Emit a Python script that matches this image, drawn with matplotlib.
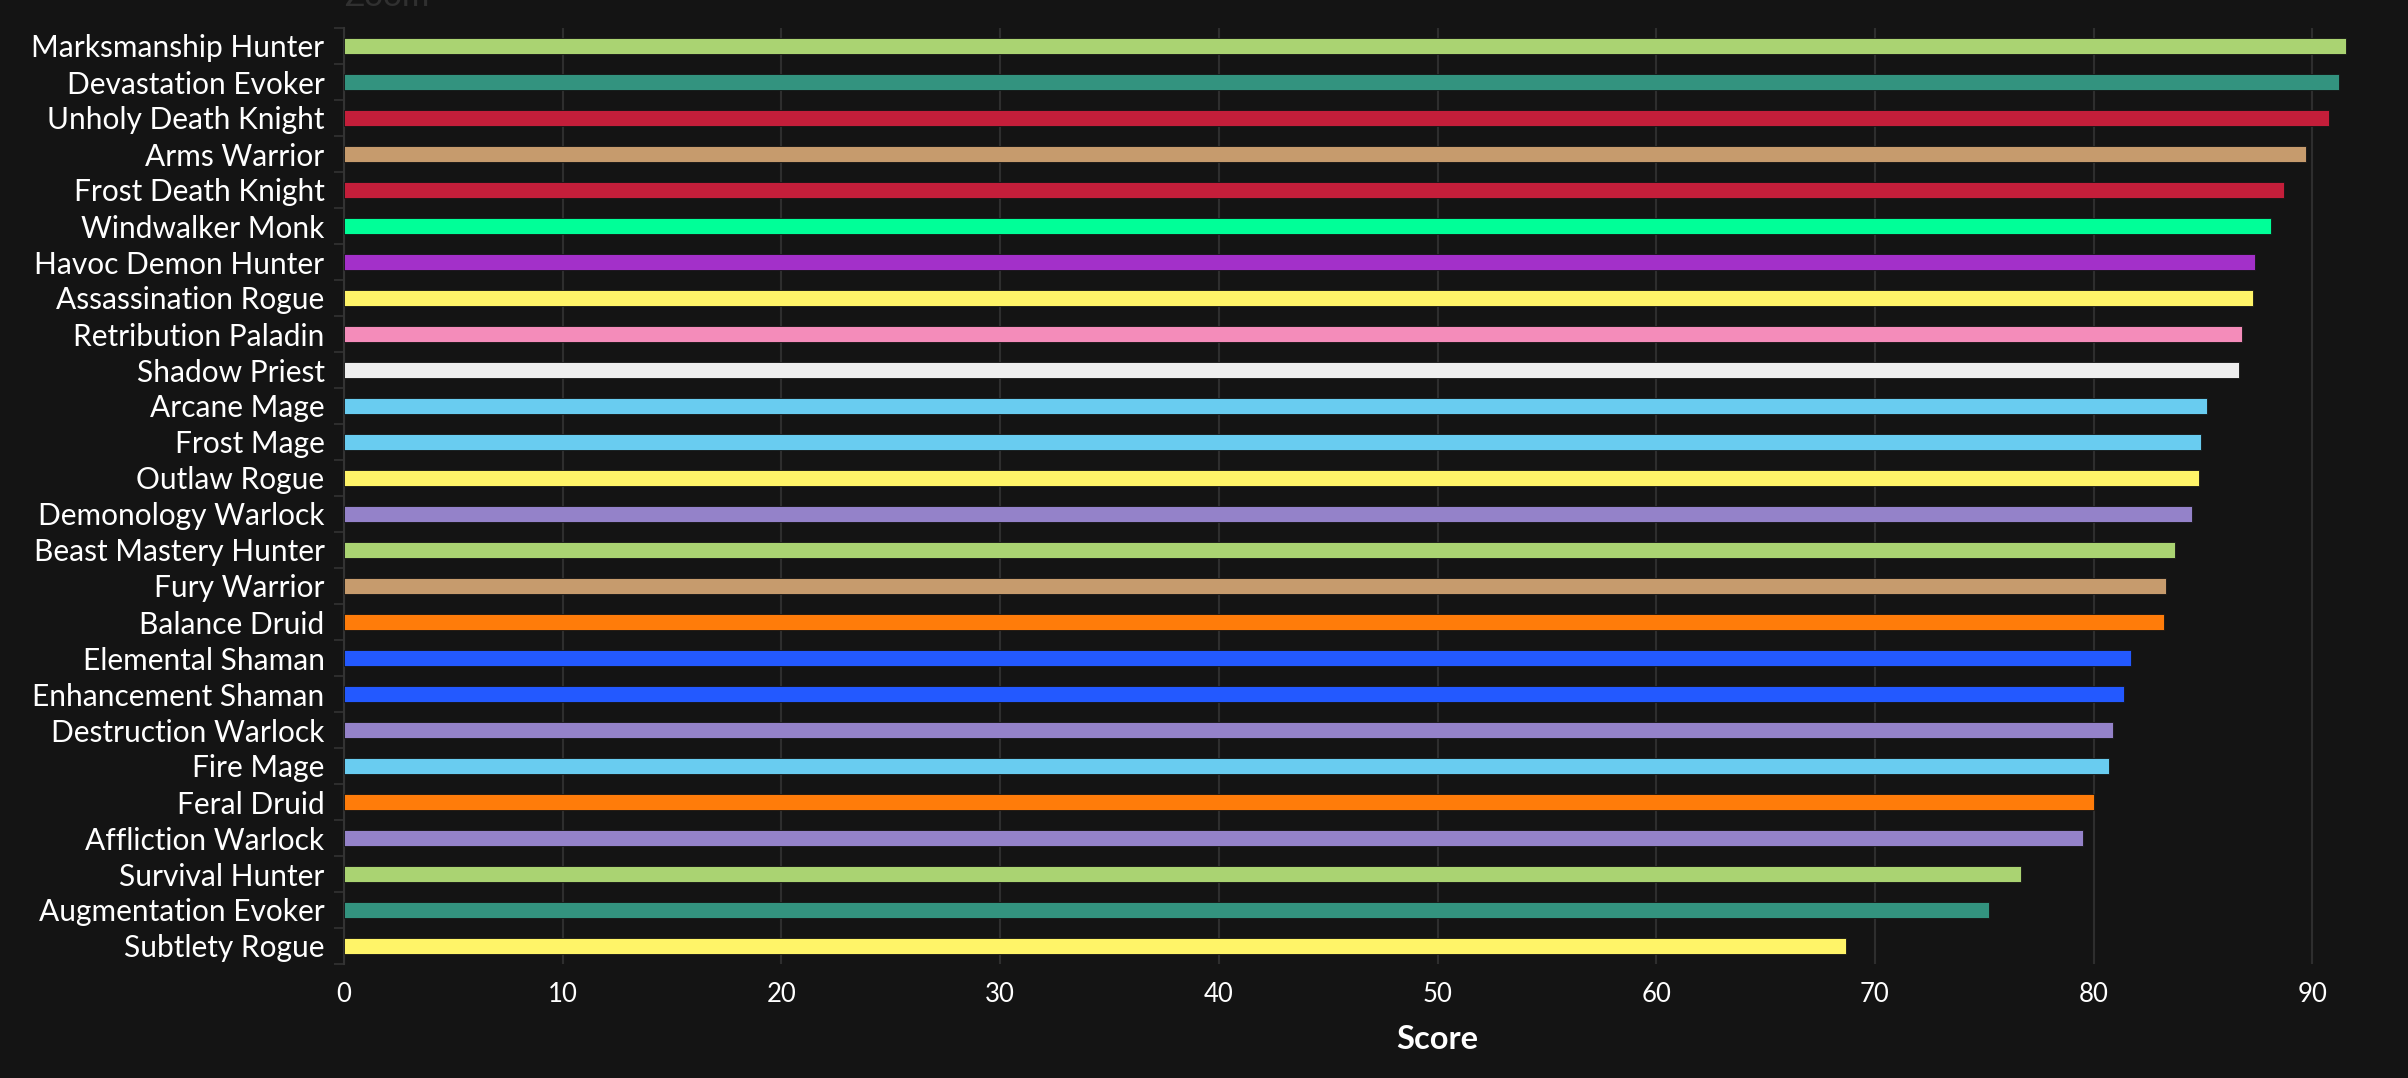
import numpy as np
import matplotlib.pyplot as plt
from matplotlib.ticker import FixedLocator

# specs, top to bottom
specs = ['Marksmanship Hunter', 'Devastation Evoker', 'Unholy Death Knight',
         'Arms Warrior', 'Frost Death Knight', 'Windwalker Monk',
         'Havoc Demon Hunter', 'Assassination Rogue', 'Retribution Paladin',
         'Shadow Priest', 'Arcane Mage', 'Frost Mage', 'Outlaw Rogue',
         'Demonology Warlock', 'Beast Mastery Hunter', 'Fury Warrior',
         'Balance Druid', 'Elemental Shaman', 'Enhancement Shaman',
         'Destruction Warlock', 'Fire Mage', 'Feral Druid',
         'Affliction Warlock', 'Survival Hunter', 'Augmentation Evoker',
         'Subtlety Rogue']
scores = [91.55, 91.2, 90.75, 89.7, 88.7, 88.1, 87.4, 87.3, 86.8, 86.65,
          85.2, 84.9, 84.8, 84.5, 83.7, 83.3, 83.2, 81.7, 81.4, 80.9,
          80.7, 80.0, 79.5, 76.7, 75.2, 68.7]
xticks = [0, 10, 20, 30, 40, 50, 60, 70, 80, 90]

class_colors = {
    'Hunter': '#AAD372', 'Evoker': '#33937F', 'Death Knight': '#C41E3A',
    'Warrior': '#C69B6D', 'Monk': '#00FF98', 'Demon Hunter': '#A330C9',
    'Rogue': '#FFF468', 'Paladin': '#F48CBA', 'Priest': '#EEEEEE',
    'Mage': '#69CCF0', 'Warlock': '#9482C9', 'Druid': '#FF7C0A',
    'Shaman': '#2359FF',
}


def spec_color(name):
    for cls in sorted(class_colors, key=len, reverse=True):
        if name.endswith(cls):
            return class_colors[cls]
    return '#888888'


colors = [spec_color(s) for s in specs]

bg = '#141414'
plt.rcParams['font.family'] = ['Lato', 'DejaVu Sans']

fig = plt.figure(figsize=(24.08, 10.78), dpi=100, facecolor=bg)
# the plot area runs past the right edge (axis goes to 100, cropped in the shot)
ax = fig.add_axes([344 / 2408, 114 / 1078, 2187 / 2408, 936 / 1078])
ax.set_facecolor(bg)

y = np.arange(len(specs))
ax.barh(y, scores, height=0.47, color=colors, edgecolor=bg, linewidth=0.6,
        zorder=3)

ax.set_xlim(0, 100)
ax.set_ylim(len(specs) - 0.5, -0.5)

ax.set_xticks(xticks)
ax.set_yticks(y)
ax.set_yticklabels(specs)
ax.yaxis.set_minor_locator(FixedLocator(np.arange(-0.5, len(specs), 1)))

ax.tick_params(axis='y', which='major', length=0, pad=14, labelsize=21.5,
               labelcolor='white')
ax.tick_params(axis='y', which='minor', length=7, width=1.2, color='#333333')
ax.tick_params(axis='x', length=0, pad=13, labelsize=18.5, labelcolor='white')

ax.grid(axis='x', color='#2e2e2e', linewidth=1.5, zorder=0)
for side in ['top', 'right', 'bottom']:
    ax.spines[side].set_visible(False)
ax.spines['left'].set_color('#333333')
ax.spines['left'].set_linewidth(1.5)

ax.set_xlabel('Score', color='white', fontsize=23.5, fontweight='bold',
              labelpad=13)

# half-hidden label at the very top
fig.text(344 / 2408, 1 - 6 / 1078, 'Zoom', color='#303030', fontsize=24,
         ha='left', va='baseline')

fig.savefig('out.png', dpi=100, facecolor=bg)
